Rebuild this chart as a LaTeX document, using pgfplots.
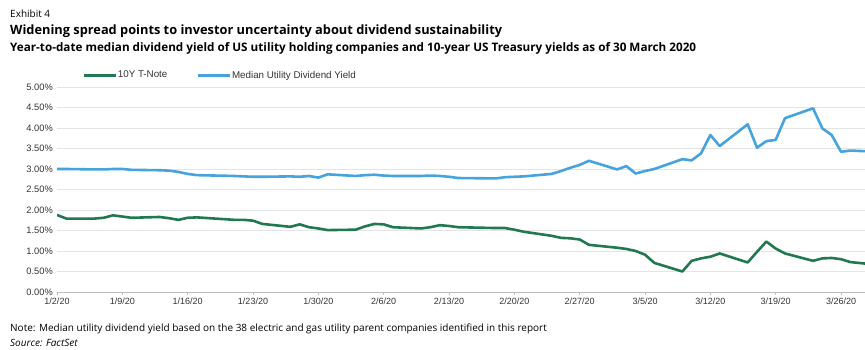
\documentclass[border=0pt]{standalone}
\usepackage{pgfplots}
\pgfplotsset{compat=1.18}
\usepackage{fontspec}
\setmainfont{Open Sans}
\newfontfamily\arial{Liberation Sans}
\definecolor{tgreen}{HTML}{22794F}
\definecolor{ublue}{HTML}{46A3DD}
\definecolor{gridc}{HTML}{E4E4E4}
\definecolor{axc}{HTML}{BFBFBF}
\definecolor{labc}{HTML}{333333}

\pgfplotstableread{
x y
0 1.88
1 1.79
4 1.79
5 1.81
6 1.87
7 1.84
8 1.81
11 1.83
12 1.80
13 1.76
14 1.81
15 1.82
19 1.76
20 1.76
21 1.74
22 1.66
25 1.59
26 1.65
27 1.58
28 1.55
29 1.51
32 1.52
33 1.60
34 1.66
35 1.65
36 1.58
39 1.55
40 1.58
41 1.63
42 1.61
43 1.58
47 1.56
48 1.56
49 1.52
50 1.47
53 1.37
54 1.32
55 1.31
56 1.28
57 1.15
60 1.08
61 1.05
62 1.00
63 0.91
64 0.71
67 0.50
68 0.76
69 0.82
70 0.86
71 0.94
74 0.72
75 0.98
76 1.23
77 1.06
78 0.94
81 0.76
82 0.82
83 0.83
84 0.80
85 0.73
88 0.66
}\tnote

\pgfplotstableread{
x y
0 3.00
1 3.00
4 2.99
5 2.99
6 3.00
7 3.00
8 2.98
11 2.97
12 2.96
13 2.93
14 2.88
15 2.85
19 2.83
20 2.82
21 2.81
22 2.81
25 2.82
26 2.81
27 2.83
28 2.79
29 2.87
32 2.83
33 2.85
34 2.86
35 2.84
36 2.83
39 2.83
40 2.84
41 2.83
42 2.81
43 2.78
47 2.77
48 2.80
49 2.81
50 2.82
53 2.88
54 2.95
55 3.03
56 3.10
57 3.20
60 2.99
61 3.07
62 2.89
63 2.95
64 3.00
67 3.24
68 3.21
69 3.38
70 3.83
71 3.56
74 4.09
75 3.52
76 3.68
77 3.71
78 4.24
81 4.48
82 3.99
83 3.83
84 3.42
85 3.45
88 3.42
}\divy

\begin{document}
\begin{tikzpicture}
\useasboundingbox (0pt,0pt) rectangle (865pt,-350pt);
\node[anchor=base west, inner sep=0, font=\fontsize{10}{12}\selectfont] at (10pt,-18pt) {Exhibit 4};
\node[anchor=base west, inner sep=0, font=\fontsize{12.8}{14}\selectfont\bfseries] at (10pt,-35pt) {Widening spread points to investor uncertainty about dividend sustainability};
\node[anchor=base west, inner sep=0, font=\fontsize{11.7}{13}\selectfont\bfseries] at (10pt,-52pt) {Year-to-date median dividend yield of US utility holding companies and 10-year US Treasury yields as of 30 March 2020};
\node[anchor=base west, inner sep=0, font=\fontsize{10}{12}\selectfont] at (10pt,-331pt) {Note: Median utility dividend yield based on the 38 electric and gas utility parent companies identified in this report};
\node[anchor=base west, inner sep=0, font=\fontsize{10}{12}\selectfont\itshape] at (10pt,-346pt) {Source: FactSet};

\begin{axis}[
  at={(57pt,-292pt)}, anchor=south west,
  scale only axis, width=808pt, height=205pt,
  xmin=0, xmax=86.57, ymin=0, ymax=5,
  axis x line*=bottom, axis y line*=left,
  x axis line style={-, draw=axc, line width=0.8pt},
  y axis line style={draw=none},
  xtick={0,7,14,21,28,35,42,49,56,63,70,77,84},
  xticklabels={1/2/20,1/9/20,1/16/20,1/23/20,1/30/20,2/6/20,2/13/20,2/20/20,2/27/20,3/5/20,3/12/20,3/19/20,3/26/20},
  ytick={0,0.5,...,5},
  yticklabels={0.00\%,0.50\%,1.00\%,1.50\%,2.00\%,2.50\%,3.00\%,3.50\%,4.00\%,4.50\%,5.00\%},
  ymajorgrids, grid style={draw=gridc, line width=0.8pt},
  xtick style={draw=axc, line width=0.6pt},
  ytick style={draw=none},
  tick align=outside, major tick length=3pt,
  xticklabel style={font=\arial\fontsize{9}{10}\selectfont, text=labc, inner sep=1pt, yshift=-2pt},
  yticklabel style={font=\arial\fontsize{9.3}{10}\selectfont, text=labc, inner sep=1pt},
  legend style={at={(0.031,1.057)}, anchor=west, legend columns=2, draw=none, fill=none,
    font=\arial\fontsize{9.8}{11}\selectfont, text=labc, inner sep=0pt,
    nodes={inner sep=1pt},
    /tikz/every even column/.append style={column sep=28pt}},
  legend image code/.code={\draw[#1] (0pt,0pt) -- (32pt,0pt);},
  every axis plot/.append style={line width=2.6pt, line join=round},
]
\addplot[tgreen, no marks] table[x=x,y=y] {\tnote};
\addlegendentry{10Y T-Note}
\addplot[ublue, no marks] table[x=x,y=y] {\divy};
\addlegendentry{Median Utility Dividend Yield}
\end{axis}
\end{tikzpicture}
\end{document}
